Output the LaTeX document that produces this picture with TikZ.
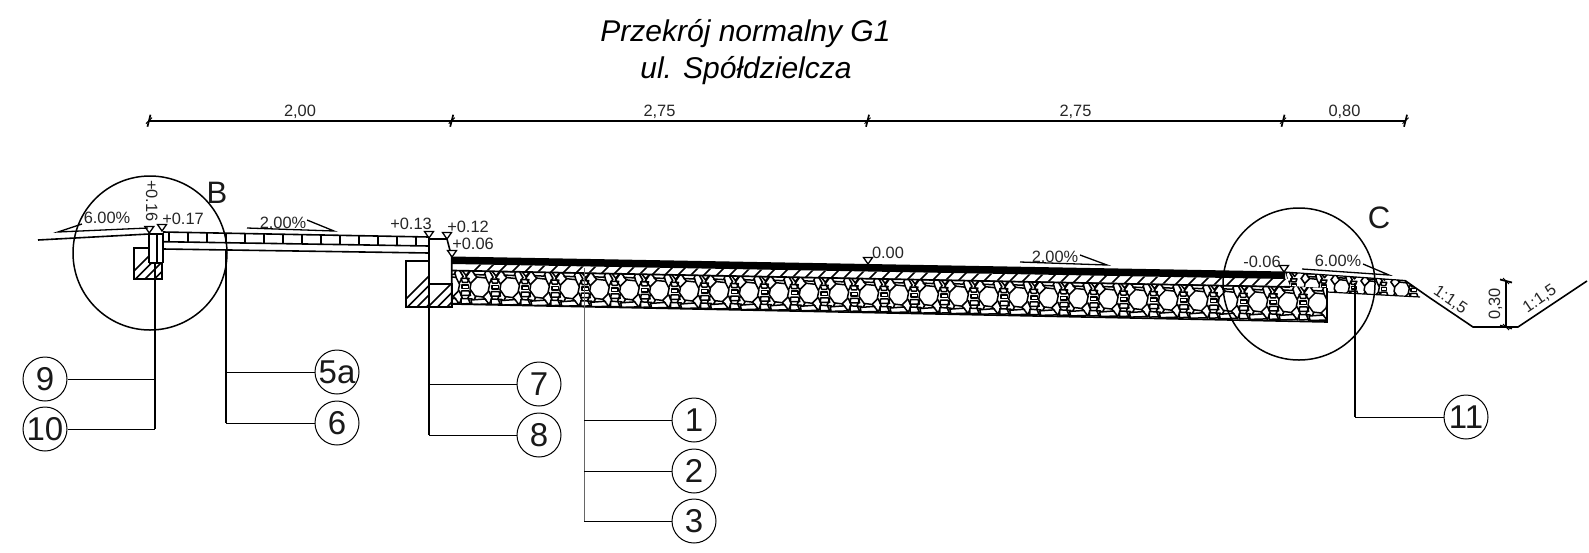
\documentclass[tikz,border=0pt]{standalone}
\usepackage{fontspec}
\setmainfont{Liberation Sans}
\tikzset{
  txt/.style={inner sep=0pt,text=black!85,text height=12pt,text depth=0pt,font=\fontsize{16.4}{18}\selectfont},
  ttl/.style={inner sep=0pt,anchor=base,text=black,font=\fontsize{30}{32}\selectfont\itshape},
  big/.style={inner sep=0pt,text=black!90,text height=22pt,text depth=0pt,font=\fontsize{31}{32}\selectfont},
  bub/.style={circle,draw,line width=1pt,minimum size=44pt,inner sep=0pt,text=black!90,text height=23pt,text depth=0pt,font=\fontsize{33}{34}\selectfont},
  lead/.style={line width=1pt},
  trunk/.style={line width=1.5pt},
  prof/.style={line width=1.6pt},
  dimln/.style={line width=1.6pt},
  ring/.style={line width=1.5pt},
  tri/.style={line width=1.3pt,fill=white},
  slope/.style={line width=1.3pt},
  hat/.style={line width=1.5pt},
  stone/.style={line width=1.5pt,fill=white,line join=round}
}
\newcommand{\stoneunit}[3]{%
 \begin{scope}[shift={(#1,#2)},scale=#3]
  \draw[line width=1.6pt] (-9,-3)--(-14,-10)--(-9,-17) (9,-3)--(13,-10)--(9,-17) (-9,4)--(-12,11)--(-9,18) (9,4)--(12,11)--(9,18) (-3,-10)--(-6,-13) (6,-9)--(5,-13) (-4,9)--(-6,13) (3,10)--(6,13);
  \draw[stone] (-9,-4)--(-3,-10)--(6,-9)--(9.5,-2)--(8,5)--(3,10)--(-5,9)--(-10,2)--cycle;
  \draw[stone] (-8,-16)--(6,-16)--(4,-12)--(-5,-12.5)--cycle;
  \draw[stone] (12,-16)--(20,-16)--(16,-11)--cycle;
  \draw[stone] (11,-8)--(19,-8)--(17.5,-4)--(12.5,-4)--cycle;
  \draw[stone] (12,-1.5)--(18.5,-1.5)--(18.5,2)--(12,2)--cycle;
  \draw[stone] (11.5,4.5)--(19,4.5)--(20.5,9)--(11,9)--cycle;
  \draw[stone] (-9,13)--(5,12)--(9,17)--(-8,17.5)--cycle;
  \draw[stone] (11,12)--(22,12.5)--(24,17)--(11,17.5)--cycle;
 \end{scope}}
\begin{document}
\begin{tikzpicture}[x=1pt,y=-1pt]
\useasboundingbox[fill=white] (0,0) rectangle (1589,552);

% title
\node[ttl] (t1) at (745.5,41) {Przekrój normalny G1};
\node[ttl] (t2) at (746,78) {ul. Spółdzielcza};

% top dimension line
\coordinate (d0) at (149,120.7);
\coordinate (d1) at (451.7,120.7);
\coordinate (d2) at (867.5,120.7);
\coordinate (d3) at (1283,120.7);
\coordinate (d4) at (1405.5,120.7);
\draw[dimln] (d0)--(d1)--(d2)--(d3)--(d4);
\foreach \c in {d0,d1,d2,d3,d4}{
  \draw[line width=1.7pt] ([shift={(-1.5,6)}]\c)--([shift={(1.5,-6)}]\c);
  \draw[line width=1pt] ([shift={(-3,3)}]\c)--([shift={(3,-3)}]\c);
}
\node[txt] (l0) at (300,110) {2,00};
\node[txt] (l1) at (659.5,110) {2,75};
\node[txt] (l2) at (1075.5,110) {2,75};
\node[txt] (l3) at (1344.5,110) {0,80};

% base course with stones
\begin{scope}
 \clip (452,270)--(1290,286)--(1327,288)--(1327,322)--(452,304)--cycle;
 \foreach \k in {-1,...,28}{
   \pgfmathsetmacro\sx{480+29.93*\k}
   \pgfmathsetmacro\sy{287+0.0191*(\sx-480)}
   \stoneunit{\sx}{\sy}{1}
 }
\end{scope}
% shoulder with stones
\begin{scope}
 \clip (1285,272)--(1405,280.5)--(1430,298)--(1420,297)--(1327,292)--(1327,288)--(1290,286)--cycle;
 \foreach \k in {-2,...,2}{
   \pgfmathsetmacro\sx{1342+29.93*\k}
   \pgfmathsetmacro\sy{287.5+0.04*(\sx-1342)}
   \stoneunit{\sx}{\sy}{0.78}
 }
\end{scope}
\draw[prof] (452,304)--(1327,322)--(1327,288);
\draw[line width=1.2pt] (1327,292)--(1420,297);
\draw[line width=1.2pt] (1285,272)--(1405,280.5);

% hatched layer
\begin{scope}
 \clip (452,264)--(1290,279)--(1283,286)--(452,270)--cycle;
 \fill[white] (452,264)--(1290,279)--(1283,286)--(452,270)--cycle;
 \foreach \i in {0,...,68}{
   \draw[line width=1.7pt] ({445+13*\i},300)--({445+13*\i+36},264);
 }
\end{scope}
\draw[line width=1.7pt] (452,270.5)--(1290,287);
% asphalt
\fill (452,256.5)--(1285,271.5)--(1285,279)--(452,264)--cycle;

% left kerb footing and edging
\draw[prof,fill=white] (134,248) rectangle (162,279);
\begin{scope}
 \clip (134,248) rectangle (162,279);
 \foreach \i in {0,...,7}{\draw[hat] ({120+9.5*\i},285)--({120+9.5*\i+40},245);}
\end{scope}
\fill[white] (149,234) rectangle (163,263);
\draw[prof] (149,263)--(149,234)--(163,234)--(163,263);
\draw[prof] (149,263)--(163,263);
\draw[prof] (157,234)--(157,263);
% ground line
\draw[prof] (38,240)--(149,234);
% paving
\draw[prof] (163,232)--(429,237);
\draw[prof] (163,241.7)--(429,246);
\draw[prof] (163,249)--(429,253);
\foreach \i in {0,...,13}{
  \pgfmathsetmacro\px{169+19*\i}
  \pgfmathsetmacro\pa{232+5*(\px-163)/266}
  \pgfmathsetmacro\pb{241.7+4.3*(\px-163)/266}
  \draw[line width=1.1pt] (\px,\pa)--(\px,\pb);
}
% central kerb
\draw[prof,fill=white] (406,261) rectangle (429,307);
\begin{scope}
 \clip (406,261) rectangle (429,307);
 \foreach \i in {0,...,8}{\draw[hat] ({390+9.5*\i},315)--({390+9.5*\i+60},255);}
\end{scope}
\draw[prof,fill=white] (429,284) rectangle (451.7,307);
\begin{scope}
 \clip (429,284) rectangle (451.7,307);
 \foreach \i in {0,...,6}{\draw[hat] ({420+9.5*\i},315)--({420+9.5*\i+35},280);}
\end{scope}
\draw[prof] (429,307)--(429,239)--(447,239)--(451.7,257)--(451.7,307);
\draw[prof] (429,284)--(451.7,284);
\draw[prof] (406,307)--(452,307);

% ditch
\draw[prof] (1405,280.5)--(1430,298)--(1473,327)--(1518,327)--(1587,281);
\coordinate (h0) at (1506,281);
\coordinate (h1) at (1506,327);
\draw[dimln] (h0)--(h1);
\foreach \c in {h0,h1}{
  \draw[line width=1.7pt] ([shift={(-6,-1.5)}]\c)--([shift={(6,1.5)}]\c);
  \draw[line width=1pt] ([shift={(-3,-3)}]\c)--([shift={(3,3)}]\c);
}
\node[txt,rotate=90] (l4) at (1494,304) {0,30};
\node[txt,rotate=-34] (s1) at (1451,299) {1:1,5};
\node[txt,rotate=34] (s2) at (1539,298) {1:1,5};

% detail circles
\draw[ring] (150,253) circle (77);
\draw[ring] (1299,284) circle (76);
\node[big] (B) at (217,192) {B};
\node[big] (C) at (1379,217) {C};

% level marks
\foreach \x/\y in {149.3/233,162/231,429/238,447/239,452/257,868/264,1284/272}{
  \draw[tri] (\x,\y)--(\x-4.5,\y-6.5)--(\x+4.5,\y-6.5)--cycle;
}
\node[txt,rotate=-90] (a1) at (152,201) {+0.16};
\node[txt] (a2) at (183,218) {+0.17};
\node[txt] (a3) at (411,223) {+0.13};
\node[txt] (a4) at (468,226) {+0.12};
\node[txt] (a5) at (473,243) {+0.06};
\node[txt] (a6) at (888,252) {0.00};
\node[txt] (a7) at (1262,261) {-0.06};

% slopes
\draw[slope] (82,224)--(58,232)--(148,228);
\node[txt] (p1) at (107,217) {6.00\%};
\draw[slope] (247,228)--(334,231)--(307,220);
\node[txt] (p2) at (283,222) {2.00\%};
\draw[slope] (1020,262)--(1107,265)--(1080,255);
\node[txt] (p3) at (1055,256) {2.00\%};
\draw[slope] (1302,269)--(1389,275)--(1363,264);
\node[txt] (p4) at (1338,260) {6.00\%};

% callouts
\node[bub] (n9) at (45,379) {9};
\node[bub] (n10) at (45,429) {10};
\node[bub] (n5a) at (337,372) {5a};
\node[bub] (n6) at (337,423) {6};
\node[bub] (n7) at (539,384) {7};
\node[bub] (n8) at (539,435) {8};
\node[bub] (n1) at (694,420) {1};
\node[bub] (n2) at (694,471) {2};
\node[bub] (n3) at (694,521) {3};
\node[bub] (n11) at (1466,417) {11};

\coordinate (v9) at (155,263);
\coordinate (v6) at (226,249);
\coordinate (v7) at (429,307);
\coordinate (v1) at (584,268);
\coordinate (v11) at (1355,283);

\draw[trunk] (v9)--(n10.east-|v9);
\draw[lead] (n9.east)--(n9.east-|v9);
\draw[lead] (n10.east)--(n10.east-|v9);
\draw[trunk] (v6)--(n6.west-|v6);
\draw[lead] (n5a.west)--(n5a.west-|v6);
\draw[lead] (n6.west)--(n6.west-|v6);
\draw[trunk] (v7)--(n8.west-|v7);
\draw[lead] (n7.west)--(n7.west-|v7);
\draw[lead] (n8.west)--(n8.west-|v7);
\draw[lead,black!60] (v1)--(n3.west-|v1);
\draw[lead] (n1.west)--(n1.west-|v1);
\draw[lead] (n2.west)--(n2.west-|v1);
\draw[lead] (n3.west)--(n3.west-|v1);
\draw[trunk] (v11)--(n11.west-|v11);
\draw[lead] (n11.west)--(n11.west-|v11);
\end{tikzpicture}
\end{document}
